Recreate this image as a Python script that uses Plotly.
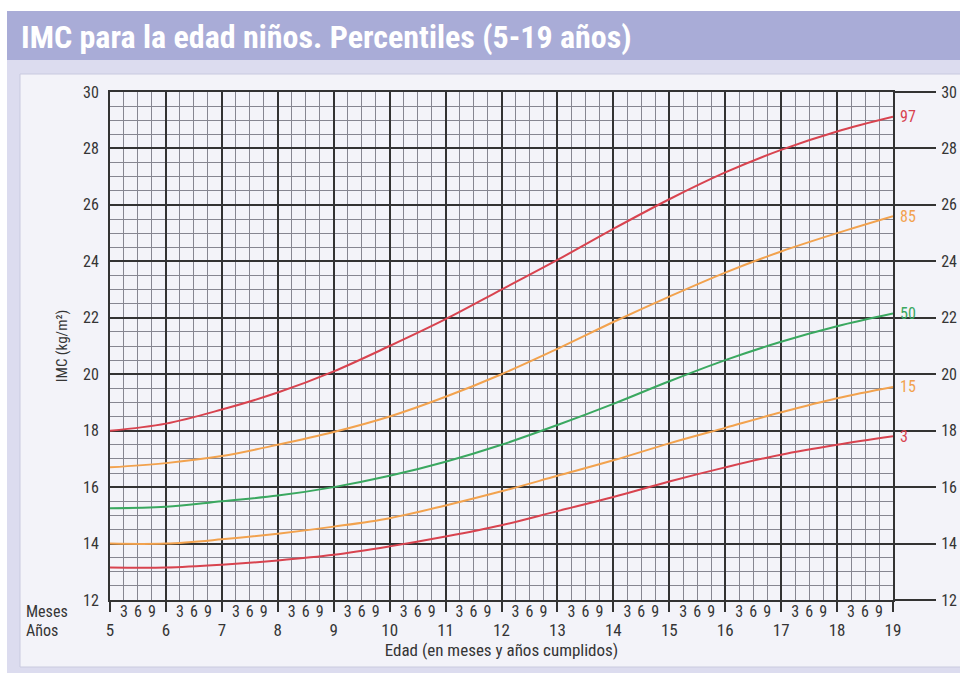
import plotly.graph_objects as go

W, H = 960, 673

# ---- data ----
ages = [5, 6, 7, 8, 9, 10, 11, 12, 13, 14, 15, 16, 17, 18, 19]
p97 = [18.0, 18.25, 18.75, 19.35, 20.1, 21.0, 21.95, 23.0, 24.05, 25.15, 26.2, 27.15, 27.95, 28.6, 29.12]
p85 = [16.7, 16.85, 17.1, 17.5, 17.95, 18.5, 19.2, 20.0, 20.9, 21.85, 22.75, 23.6, 24.35, 25.0, 25.6]
p50 = [15.25, 15.3, 15.5, 15.7, 16.0, 16.4, 16.9, 17.5, 18.2, 18.95, 19.75, 20.5, 21.15, 21.7, 22.15]
p15 = [14.0, 14.0, 14.15, 14.35, 14.6, 14.9, 15.35, 15.85, 16.4, 16.95, 17.55, 18.1, 18.65, 19.15, 19.55]
p3 = [13.15, 13.15, 13.25, 13.4, 13.6, 13.9, 14.25, 14.65, 15.15, 15.65, 16.2, 16.7, 17.15, 17.5, 17.8]

series_names = ["97", "85", "50", "15", "3"]
series_values = [p97, p85, p50, p15, p3]
series_colors = ["#d8434f", "#f2a24e", "#3aa860", "#f2a24e", "#d8434f"]

year_labels = [str(a) for a in ages]
month_labels = ["3", "6", "9"]
month_vals = [a + q / 12 for a in ages[:-1] for q in (3, 6, 9)]
month_text = [m for a in ages[:-1] for m in month_labels]

title_text = "IMC para la edad niños. Percentiles (5-19 años)"
FONT = "Liberation Sans Narrow, Arial Narrow, Roboto Condensed, sans-serif"
DARK = "#333333"
MINOR = "#868691"
TXT = "#353535"


def px(x):
    return x / W


def py(y):
    return 1 - y / H


fig = go.Figure()

for name, vals, col in zip(series_names, series_values, series_colors):
    fig.add_trace(go.Scatter(x=ages, y=vals, mode="lines", name=name,
                             line=dict(color=col, width=2, shape="spline"),
                             showlegend=False, hoverinfo="x+y"))
    fig.add_annotation(x=ages[-1], y=vals[-1], xref="x", yref="y", text=name,
                       xanchor="left", yanchor="middle", xshift=5, showarrow=False,
                       font=dict(family=FONT, size=16, color=col))

# invisible trace so secondary axes are drawn
fig.add_trace(go.Scatter(x=ages, y=p50, xaxis="x2", yaxis="y2", mode="lines",
                         line=dict(width=0), opacity=0, showlegend=False, hoverinfo="skip"))

shapes = [
    dict(type="rect", xref="paper", yref="paper", x0=px(7), x1=1, y0=0, y1=py(11),
         fillcolor="#dcdcef", line=dict(width=0), layer="below"),
    dict(type="rect", xref="paper", yref="paper", x0=px(7), x1=1, y0=py(60), y1=py(11),
         fillcolor="#a9acd7", line=dict(width=0), layer="below"),
    dict(type="rect", xref="paper", yref="paper", x0=px(20), x1=px(975), y0=py(667), y1=py(74),
         fillcolor="#f3f3f9", line=dict(color="#c9cadf", width=1), layer="below"),
]

annotations = [
    dict(xref="paper", yref="paper", x=px(19), y=py(37), text="<b>" + title_text + "</b>",
         xanchor="left", yanchor="middle", showarrow=False,
         font=dict(family=FONT, size=32, color="white")),
    dict(xref="paper", yref="paper", x=px(24), y=py(611), text="Meses",
         xanchor="left", yanchor="middle", showarrow=False,
         font=dict(family=FONT, size=16, color=TXT)),
    dict(xref="paper", yref="paper", x=px(24), y=py(630), text="Años",
         xanchor="left", yanchor="middle", showarrow=False,
         font=dict(family=FONT, size=16, color=TXT)),
]
for a in annotations:
    fig.add_annotation(**a)

xdom = [px(110), px(893)]
ydom = [py(600), py(92)]

fig.update_layout(
    width=W, height=H,
    margin=dict(l=0, r=0, t=0, b=0, autoexpand=False),
    paper_bgcolor="white",
    plot_bgcolor="#f5f5fa",
    font=dict(family=FONT, size=14, color=TXT),
    shapes=shapes,
    xaxis=dict(domain=xdom, range=[5, 19], tickmode="array", tickvals=ages, ticktext=year_labels,
               ticks="outside", ticklen=10, tickwidth=2, tickcolor=DARK,
               ticklabelstandoff=4, automargin=False,
               showgrid=True, gridcolor=DARK, gridwidth=2,
               minor=dict(tick0=5, dtick=0.25, showgrid=True, gridcolor=MINOR, gridwidth=1.4, ticks=""),
               showline=True, mirror=True, linecolor=DARK, linewidth=2, zeroline=False,
               tickfont=dict(family=FONT, size=17, color=TXT),
               title=dict(text="Edad (en meses y años cumplidos)", standoff=2,
                          font=dict(family=FONT, size=17, color=TXT))),
    xaxis2=dict(overlaying="x", matches="x", anchor="y", side="bottom",
                tickmode="array", tickvals=month_vals, ticktext=month_text,
                ticks="", showgrid=False, showline=False, zeroline=False,
                ticklabelstandoff=0, automargin=False,
                tickfont=dict(family=FONT, size=16, color=TXT)),
    yaxis=dict(domain=ydom, range=[12, 30], tick0=12, dtick=2, ticks="",
               showgrid=True, gridcolor=DARK, gridwidth=2,
               minor=dict(tick0=12, dtick=0.5, showgrid=True, gridcolor=MINOR, gridwidth=1.4, ticks=""),
               showline=True, mirror=True, linecolor=DARK, linewidth=2, zeroline=False,
               ticklabelstandoff=6, automargin=False,
               tickfont=dict(family=FONT, size=16, color=TXT),
               title=dict(text="IMC (kg/m²)", standoff=12,
                          font=dict(family=FONT, size=15, color=TXT))),
    yaxis2=dict(overlaying="y", anchor="x", side="right", range=[12, 30], tick0=12, dtick=2,
                ticks="outside", ticklen=42, tickwidth=1.5, tickcolor=DARK,
                showgrid=False, showline=False, zeroline=False,
                ticklabelstandoff=2, automargin=False,
                tickfont=dict(family=FONT, size=16, color=TXT)),
)

fig.write_html("out.html", config={"displayModeBar": False},
               post_script="document.body.style.margin='0';")
